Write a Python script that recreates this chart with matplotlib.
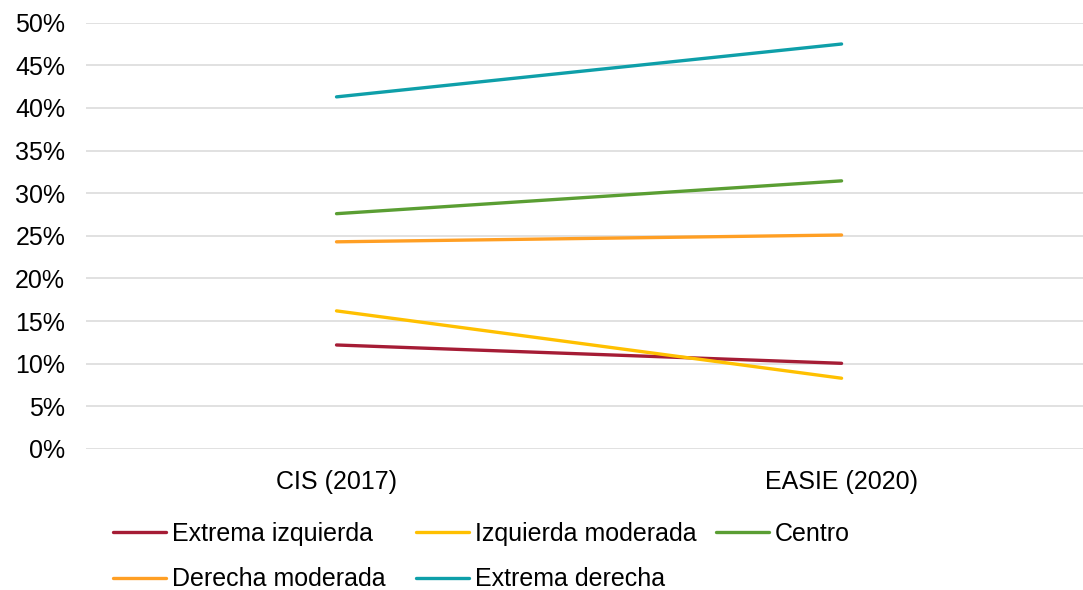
import matplotlib.pyplot as plt
from matplotlib.ticker import PercentFormatter

plt.rcParams['font.family'] = ['Liberation Sans', 'DejaVu Sans']

# Datos
surveys = ["CIS (2017)", "EASIE (2020)"]
extrema_izquierda = [12.2, 10.05]
izquierda_moderada = [16.2, 8.3]
centro = [27.6, 31.45]
derecha_moderada = [24.3, 25.1]
extrema_derecha = [41.3, 47.5]

series = [
    ("Extrema izquierda", extrema_izquierda, "#A51C35"),
    ("Izquierda moderada", izquierda_moderada, "#FFC000"),
    ("Centro", centro, "#5A9E33"),
    ("Derecha moderada", derecha_moderada, "#FF9F24"),
    ("Extrema derecha", extrema_derecha, "#0E9FA9"),
]

FS = 18
W, H = 1083, 590

fig = plt.figure(figsize=(10.83, 5.90), dpi=100)
ax = fig.add_axes([86 / W, 1 - 449 / H, 1 - 86 / W, (449 - 22.7) / H])

x = list(range(len(surveys)))
lines = {}
for name, vals, col in series:
    lines[name], = ax.plot(x, vals, color=col, lw=2.4, solid_capstyle='round', label=name)

ax.set_ylim(0, 50)
ax.set_yticks(range(0, 51, 5))
ax.yaxis.set_major_formatter(PercentFormatter(decimals=0))
ax.set_xlim(-0.496, 1.478)
ax.set_xticks(x)
ax.set_xticklabels(surveys)
ax.tick_params(axis='both', length=0, labelsize=FS, colors='black')
ax.tick_params(axis='y', pad=15)
ax.tick_params(axis='x', pad=15)
ax.grid(axis='y', color='#D9D9D9', lw=1.1)
ax.set_axisbelow(True)
for s in ax.spines.values():
    s.set_visible(False)

# leyenda en tres columnas, como en Excel (una leyenda por columna)
columns = [
    (113, ["Extrema izquierda", "Derecha moderada"]),
    (416, ["Izquierda moderada", "Extrema derecha"]),
    (716, ["Centro"]),
]
for xpix, names in columns:
    fig.legend([lines[n] for n in names], names, frameon=False,
               fontsize=FS, handlelength=2.1, handletextpad=0.25,
               labelspacing=0.85, borderpad=0, borderaxespad=0,
               loc='upper left', bbox_to_anchor=(xpix / W, 1 - 522 / H))

fig.savefig("out.png", dpi=100)
